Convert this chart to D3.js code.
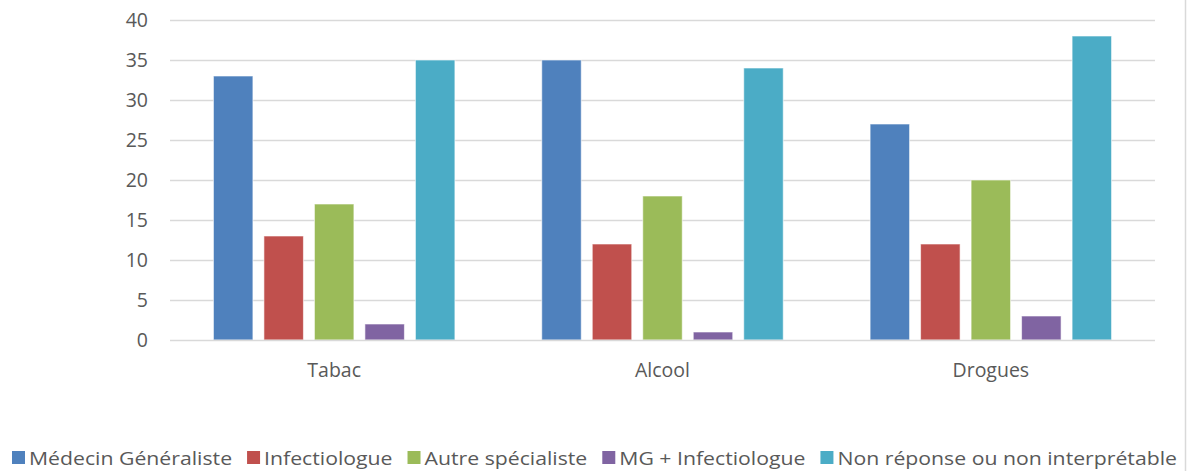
<!DOCTYPE html>
<html><head><meta charset="utf-8">
<script src="https://cdn.jsdelivr.net/npm/d3@7"></script>
<style>
html,body{margin:0;padding:0;background:#fff;}
svg{display:block;font-family:"Open Sans","Liberation Sans",sans-serif;}
</style></head>
<body><svg id="c" width="1187" height="471"></svg>
<script>
const categories = ["Tabac", "Alcool", "Drogues"];
const seriesNames = ["Médecin Généraliste", "Infectiologue", "Autre spécialiste", "MG + Infectiologue", "Non réponse ou non interprétable"];
const medecinGeneraliste = [33, 35, 27];
const infectiologue = [13, 12, 12];
const autreSpecialiste = [17, 18, 20];
const mgInfectiologue = [2, 1, 3];
const nonReponse = [35, 34, 38];
const yTicks = [0, 5, 10, 15, 20, 25, 30, 35, 40];
const colors = ["#4F81BD", "#C0504D", "#9BBB59", "#8064A2", "#4BACC6"];

const seriesValues = [medecinGeneraliste, infectiologue, autreSpecialiste, mgInfectiologue, nonReponse];

const svg = d3.select("#c");
const W = 1187, H = 471;
const plot = {left: 170, right: 1155, top: 20, bottom: 340};

const x0 = d3.scaleBand().domain(categories).range([plot.left, plot.right]).paddingInner(0).paddingOuter(0);
const x1 = d3.scaleBand().domain(d3.range(seriesNames.length)).range([0, x0.bandwidth()]).paddingInner(0.218).paddingOuter(0.86);
const y = d3.scaleLinear().domain([0, 40]).range([plot.bottom, plot.top]);

// right frame line
svg.append("line").attr("x1", 1185.5).attr("x2", 1185.5).attr("y1", 0).attr("y2", H)
  .attr("stroke", "#D9D9D9").attr("stroke-width", 1.5);

// gridlines
svg.append("g").selectAll("line").data(yTicks.filter(d => d > 0)).join("line")
  .attr("x1", plot.left).attr("x2", plot.right)
  .attr("y1", d => Math.round(y(d)) + 0.5).attr("y2", d => Math.round(y(d)) + 0.5)
  .attr("stroke", "#D9D9D9").attr("stroke-width", 1.3);

// y axis labels
const yAxis = d3.axisLeft(y).tickValues(yTicks).tickSize(0).tickPadding(0);
const ga = svg.append("g").attr("transform", `translate(148,0)`).call(yAxis);
ga.select(".domain").remove();
ga.selectAll("text").attr("fill", "#595959").attr("font-size", 19.5).attr("font-family", "'Open Sans','Liberation Sans',sans-serif");

// bars
const groups = svg.append("g").selectAll("g").data(categories).join("g")
  .attr("transform", d => `translate(${x0(d)},0)`);
groups.selectAll("rect").data((c, ci) => seriesValues.map((vals, si) => ({si, v: vals[ci]}))).join("rect")
  .attr("x", d => x1(d.si))
  .attr("width", x1.bandwidth())
  .attr("y", d => y(d.v))
  .attr("height", d => y(0) - y(d.v))
  .attr("fill", d => colors[d.si])
  .attr("stroke", "#ffffff").attr("stroke-opacity", 0.6).attr("stroke-width", 1);

// baseline
svg.append("line").attr("x1", plot.left).attr("x2", plot.right)
  .attr("y1", y(0) + 0.5).attr("y2", y(0) + 0.5).attr("stroke", "#D9D9D9").attr("stroke-width", 1.5);

// x axis labels
const xAxis = d3.axisBottom(x0).tickSize(0).tickPadding(0);
const gx = svg.append("g").attr("transform", `translate(0,${plot.bottom + 23})`).call(xAxis);
gx.select(".domain").remove();
gx.selectAll("text").attr("fill", "#595959").attr("font-size", 19.5).attr("font-family", "'Open Sans','Liberation Sans',sans-serif");

// legend
const leg = svg.append("g").attr("transform", "translate(0,458)");
const fs = 19;
const items = leg.selectAll("g").data(seriesNames).join("g");
items.append("rect").attr("width", 13).attr("height", 13).attr("y", -7).attr("fill", (d, i) => colors[i]);
items.append("text").attr("x", 17).attr("dy", "0.35em").attr("font-size", fs).attr("fill", "#595959").text(d => d);
// sequential layout, fitted to available width
const widths = [];
items.each(function() { widths.push(d3.select(this).select("text").node().getComputedTextLength()); });
const startX = 12, endX = 1177;
const gapBase = 15;
const k = (endX - startX - seriesNames.length * 17 - (seriesNames.length - 1) * gapBase) / d3.sum(widths);
let cx = startX;
items.each(function(d, i) {
  const g = d3.select(this);
  g.attr("transform", `translate(${cx},0)`);
  g.select("text").attr("textLength", widths[i] * k).attr("lengthAdjust", "spacingAndGlyphs");
  cx += 17 + widths[i] * k + gapBase;
});
</script>
</body></html>
